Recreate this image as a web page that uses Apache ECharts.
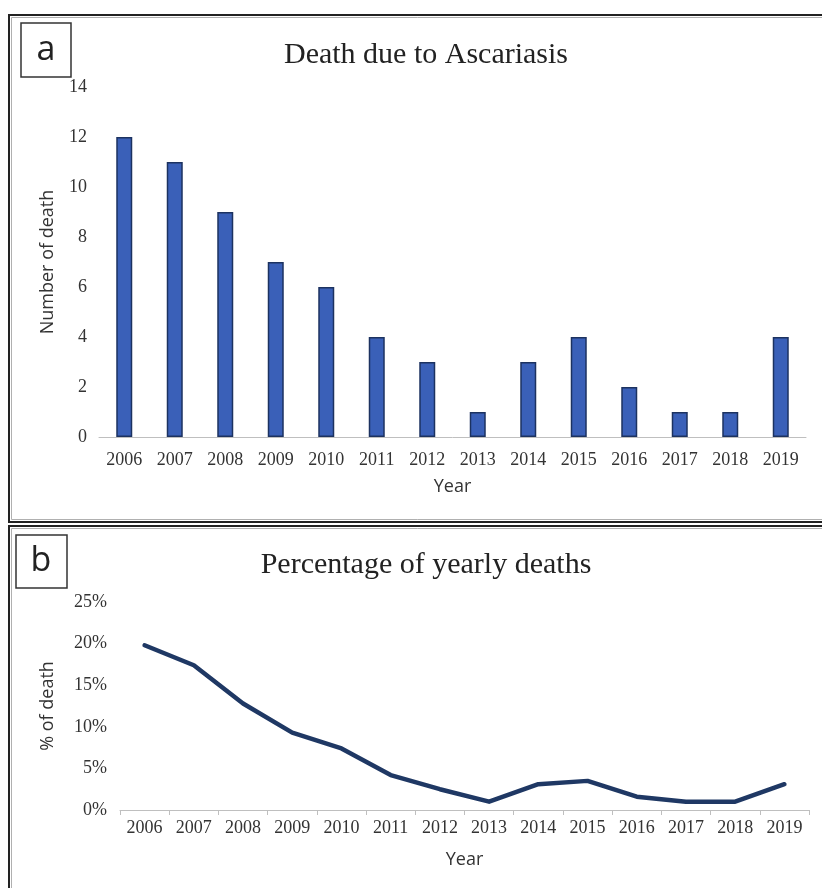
<!DOCTYPE html>
<html>
<head>
<meta charset="utf-8">
<script src="https://cdn.jsdelivr.net/npm/echarts@6/dist/echarts.min.js"></script>
<style>
  html, body { margin: 0; padding: 0; background: #fff; }
  #chart { width: 822px; height: 888px; }
</style>
</head>
<body>
<div id="chart"></div>
<script>
// Years shared by both panels
const years = ['2006','2007','2008','2009','2010','2011','2012','2013','2014','2015','2016','2017','2018','2019'];
// Panel a: number of deaths due to ascariasis
const deaths = [12, 11, 9, 7, 6, 4, 3, 1, 3, 4, 2, 1, 1, 4];
// Panel b: share of yearly deaths (percent)
const pctDeaths = [19.8, 17.4, 12.8, 9.3, 7.4, 4.2, 2.5, 1.0, 3.1, 3.5, 1.6, 1.0, 1.0, 3.1];

const serif = '"Liberation Serif", "DejaVu Serif", serif';
const sans = '"Open Sans", "DejaVu Sans", sans-serif';
const tickText = { fontFamily: serif, fontSize: 18, color: '#333' };
const nameText = { fontFamily: sans, fontSize: 18, color: '#333' };

const chart = echarts.init(document.getElementById('chart'), null, { renderer: 'canvas' });

chart.setOption({
  animation: false,
  backgroundColor: '#fff',
  title: [
    { text: 'Death due to Ascariasis', left: 421, top: 35, textAlign: 'center',
      textStyle: { fontFamily: serif, fontSize: 30, fontWeight: 'normal', color: '#222' } },
    { text: 'Percentage of yearly deaths', left: 421, top: 545, textAlign: 'center',
      textStyle: { fontFamily: serif, fontSize: 30, fontWeight: 'normal', color: '#222' } }
  ],
  grid: [
    { left: 99, right: 16, top: 87, bottom: 451, containLabel: false },
    { left: 120, right: 13, top: 602, bottom: 78, containLabel: false }
  ],
  xAxis: [
    { type: 'category', gridIndex: 0, data: years,
      axisLine: { lineStyle: { color: '#bfbfbf', width: 1 } },
      axisTick: { show: false },
      axisLabel: Object.assign({ margin: 14, interval: 0 }, tickText),
      name: 'Year', nameLocation: 'middle', nameGap: 41, nameTextStyle: nameText },
    { type: 'category', gridIndex: 1, data: years,
      axisLine: { lineStyle: { color: '#bfbfbf', width: 1 } },
      axisTick: { show: true, length: 5, lineStyle: { color: '#bfbfbf' } },
      axisLabel: Object.assign({ margin: 9, interval: 0 }, tickText),
      name: 'Year', nameLocation: 'middle', nameGap: 41, nameTextStyle: nameText }
  ],
  yAxis: [
    { type: 'value', gridIndex: 0, min: 0, max: 14, interval: 2,
      axisLine: { show: false }, axisTick: { show: false }, splitLine: { show: false },
      axisLabel: Object.assign({ margin: 12 }, tickText),
      name: 'Number of death', nameLocation: 'middle', nameGap: 42, nameTextStyle: nameText },
    { type: 'value', gridIndex: 1, min: 0, max: 25, interval: 5,
      axisLine: { show: false }, axisTick: { show: false }, splitLine: { show: false },
      axisLabel: Object.assign({ margin: 13, formatter: '{value}%' }, tickText),
      name: '% of death', nameLocation: 'middle', nameGap: 63, nameTextStyle: nameText }
  ],
  series: [
    { type: 'bar', xAxisIndex: 0, yAxisIndex: 0, data: deaths, barWidth: 16,
      itemStyle: { color: '#3a60b8', borderColor: '#1c3260', borderWidth: 1.5 } },
    { type: 'line', xAxisIndex: 1, yAxisIndex: 1, data: pctDeaths,
      showSymbol: false, smooth: false,
      lineStyle: { color: '#1f3864', width: 4.5, cap: 'round', join: 'round' } }
  ],
  graphic: [
    // panel frames (right and bottom edges run past the canvas)
    { type: 'rect', shape: { x: 9, y: 15, width: 900, height: 507 },
      style: { fill: 'none', stroke: '#222', lineWidth: 2 } },
    { type: 'rect', shape: { x: 11.5, y: 17.5, width: 900, height: 502 },
      style: { fill: 'none', stroke: '#b0b0b0', lineWidth: 1 } },
    { type: 'rect', shape: { x: 9, y: 526, width: 900, height: 400 },
      style: { fill: 'none', stroke: '#222', lineWidth: 2 } },
    { type: 'rect', shape: { x: 11.5, y: 528.5, width: 900, height: 400 },
      style: { fill: 'none', stroke: '#b0b0b0', lineWidth: 1 } },
    // panel letters
    { type: 'rect', shape: { x: 21, y: 23, width: 50, height: 54 },
      style: { fill: '#fff', stroke: '#333', lineWidth: 1.5 } },
    { type: 'text', x: 46, y: 50,
      style: { text: 'a', fontFamily: sans, fontSize: 34, fill: '#222', align: 'center', verticalAlign: 'middle' } },
    { type: 'rect', shape: { x: 16, y: 535, width: 51, height: 53 },
      style: { fill: '#fff', stroke: '#333', lineWidth: 1.5 } },
    { type: 'text', x: 41, y: 561,
      style: { text: 'b', fontFamily: sans, fontSize: 34, fill: '#222', align: 'center', verticalAlign: 'middle' } }
  ]
});
</script>
</body>
</html>
